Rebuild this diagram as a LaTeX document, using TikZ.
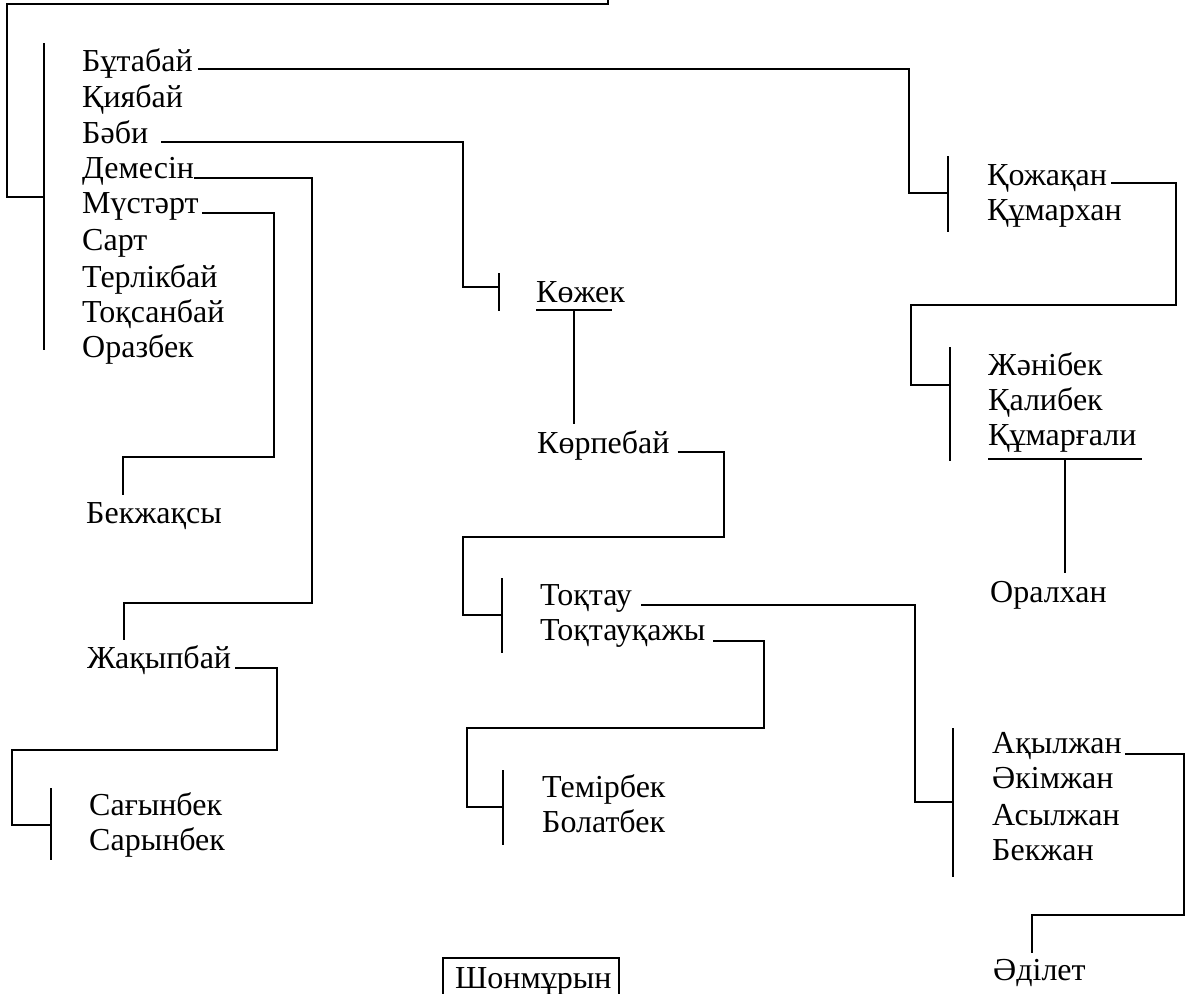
\documentclass[tikz,border=0pt]{standalone}
\usepackage{fontspec}
\setmainfont{Liberation Serif}
\begin{document}
\begin{tikzpicture}[x=1pt,y=-1pt,
  nm/.style={anchor=base west,inner sep=0pt,font=\fontsize{32}{35}\selectfont},
  ln/.style={line width=1.7pt,line join=miter},
  br/.style={line width=1.7pt}]
\useasboundingbox (0,0) rectangle (1188,993);
\clip (0,0) rectangle (1188,993);
% left list
\node[nm] (but) at (82,71) {Бұтабай};
\node[nm] (kiy) at (82,107) {Қиябай};
\node[nm] (babi) at (82,143) {Бәби};
\node[nm] (dem) at (82,178) {Демесін};
\node[nm] (must) at (82,213) {Мүстәрт};
\node[nm] (sart) at (82,250) {Сарт};
\node[nm] (terl) at (82,287) {Терлікбай};
\node[nm] (toks) at (82,322) {Тоқсанбай};
\node[nm] (oraz) at (82,357) {Оразбек};
\node[nm] (bekzh) at (86,523) {Бекжақсы};
\node[nm] (zhak) at (87,668) {Жақыпбай};
\node[nm] (sagyn) at (89,815) {Сағынбек};
\node[nm] (saryn) at (89,850) {Сарынбек};
% middle
\node[nm] (kozh) at (536,302) {Көжек};
\node[nm] (korp) at (537,453) {Көрпебай};
\node[nm] (tokt) at (540,605) {Тоқтау};
\node[nm] (toktk) at (540,640) {Тоқтауқажы};
\node[nm] (temir) at (542,797) {Темірбек};
\node[nm] (bolat) at (542,832) {Болатбек};
\node[nm] (shon) at (455,988) {Шонмұрын};
% right
\node[nm] (koja) at (987,185) {Қожақан};
\node[nm] (kumh) at (987,220) {Құмархан};
\node[nm] (zhan) at (988,375) {Жәнібек};
\node[nm] (kali) at (988,410) {Қалибек};
\node[nm] (kumg) at (988,445) {Құмарғали};
\node[nm] (oral) at (990,602) {Оралхан};
\node[nm] (akyl) at (992,753) {Ақылжан};
\node[nm] (akim) at (992,788) {Әкімжан};
\node[nm] (asyl) at (992,825) {Асылжан};
\node[nm] (bekzhan) at (992,860) {Бекжан};
\node[nm] (adil) at (993,980) {Әділет};
% coordinates of bars
\coordinate (topend) at (608,0);
\coordinate (b0a) at (44,43); \coordinate (b0b) at (44,350);
\coordinate (b1a) at (948,156); \coordinate (b1b) at (948,232);
\coordinate (b2a) at (950,347); \coordinate (b2b) at (950,461);
\coordinate (b3a) at (499,273); \coordinate (b3b) at (499,311);
\coordinate (b4a) at (502,578); \coordinate (b4b) at (502,653);
\coordinate (b5a) at (503,770); \coordinate (b5b) at (503,845);
\coordinate (b6a) at (953,728); \coordinate (b6b) at (953,877);
\coordinate (b7a) at (51,788); \coordinate (b7b) at (51,860);
% bars
\draw[br] (b0a) -- (b0b);
\draw[br] (b1a) -- (b1b);
\draw[br] (b2a) -- (b2b);
\draw[br] (b3a) -- (b3b);
\draw[br] (b4a) -- (b4b);
\draw[br] (b5a) -- (b5b);
\draw[br] (b6a) -- (b6b);
\draw[br] (b7a) -- (b7b);
% top connector
\draw[ln] (topend) -- (608,4) -- (7,4) -- (7,197) -- (44,197);
% Бұтабай -> Қожақан
\draw[ln] ([xshift=5pt,yshift=2pt]but.base east) -| (909,193) -- (948,193);
% Қожақан -> Жәнібек
\draw[ln] ([xshift=4pt,yshift=2pt]koja.base east) -| (1176,305) -- (911,305) |- (950,385);
% Құмарғали -> Оралхан
\draw[ln] (988,459) -- (1142,459);
\draw[ln] (1065,459) -- (1065,573);
% Бәби -> Көжек
\draw[ln] ([xshift=13pt,yshift=1pt]babi.base east) -| (463,287) -- (499,287);
% Көжек -> Көрпебай
\draw[ln] (536,310) -- (612,310);
\draw[ln] (574,310) -- (574,424);
% Көрпебай -> Тоқтау
\draw[ln] ([xshift=8pt,yshift=1pt]korp.base east) -| (724,537) -- (463,537) |- (502,615);
% Тоқтау -> Ақылжан
\draw[ln] ([xshift=9pt]tokt.base east) -| (915,802) -- (953,802);
% Тоқтауқажы -> Темірбек
\draw[ln] ([xshift=8pt,yshift=-1pt]toktk.base east) -| (764,728) -- (467,728) |- (503,807);
% Ақылжан -> Әділет
\draw[ln] ([xshift=3pt,yshift=-1pt]akyl.base east) -| (1184,915) -- (1032,915) -- (1032,953);
% Демесін -> Жақыпбай
\draw[ln] (dem.base east) -| (312,603) -- (124,603) -- (124,640);
% Мүстәрт -> Бекжақсы
\draw[ln] ([xshift=3pt]must.base east) -| (274,457) -- (123,457) -- (123,495);
% Жақыпбай -> Сағынбек
\draw[ln] ([xshift=4pt]zhak.base east) -| (277,750) -- (12,750) |- (51,825);
% Шонмұрын box
\draw[ln] (443,1000) -- (443,958) -- (619,958) -- (619,1000);
\end{tikzpicture}
\end{document}
